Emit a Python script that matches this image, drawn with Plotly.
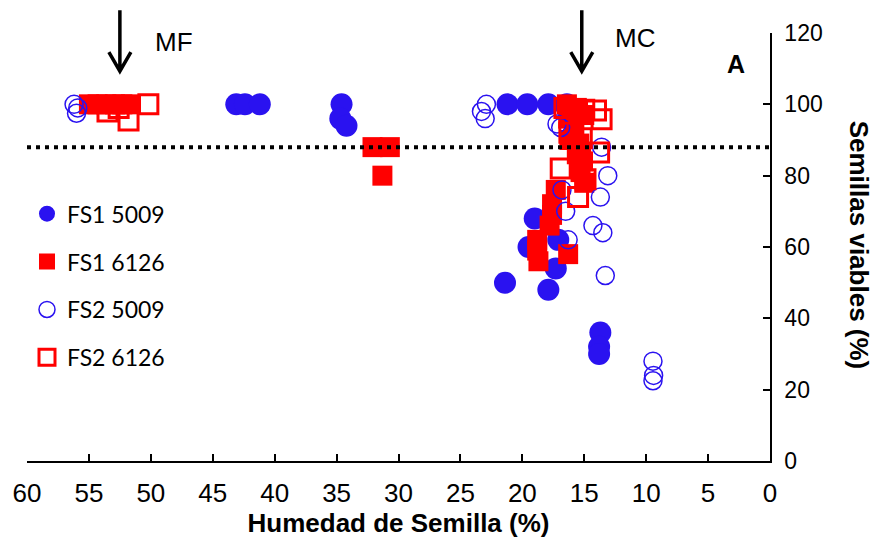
import plotly.graph_objects as go

# ---- data ----
fs1_5009_x = [43.1, 42.4, 41.2, 34.6, 34.7, 34.2, 21.2, 19.6, 17.9, 16.4, 21.4, 19.0, 19.5, 17.1, 17.3, 17.9, 13.7, 13.8, 13.8]
fs1_5009_y = [100, 100, 100, 100, 96, 94, 100, 100, 100, 100, 50, 68, 60, 62, 54, 48, 36, 32, 30]

fs1_6126_x = [55.0, 54.3, 53.6, 52.9, 52.3, 51.6, 32.1, 30.7, 31.3,
              16.4, 15.6, 15.0, 16.3, 15.8, 16.2, 15.4, 15.6, 15.1, 15.3, 15.0,
              17.3, 17.6, 17.6, 17.8, 18.8, 18.8, 18.7, 16.3]
fs1_6126_y = [100, 100, 100, 100, 100, 100, 88, 88, 80,
              100, 99, 97, 96, 93, 90, 89, 86, 84, 81, 78,
              76, 72, 69, 66, 62, 59, 56, 58]

fs2_5009_x = [56.2, 55.9, 56.0, 23.3, 22.9, 23.0, 17.2, 16.9, 13.6, 13.1, 13.7, 16.8,
              16.5, 14.3, 13.5, 16.3, 13.3, 9.45, 9.4, 9.45]
fs2_5009_y = [100, 99, 97.5, 98, 100, 96, 94.5, 93.5, 88, 80, 74, 76,
              70, 66, 64, 62, 52, 28, 24, 22.5]

fs2_6126_x = [50.2, 53.5, 51.8, 52.6, 16.6, 15.0, 14.05, 13.6, 16.2, 15.2, 13.8, 16.9, 14.9, 15.5]
fs2_6126_y = [100, 98, 95.5, 99, 99, 98.5, 98.3, 95.8, 92, 90.5, 86.5, 82, 79, 74]

threshold = 88
mf_x, mc_x = 52.5, 15.2
arrow_tip_y = 109

x_ticks = [60, 55, 50, 45, 40, 35, 30, 25, 20, 15, 10, 5, 0]
y_ticks = [0, 20, 40, 60, 80, 100, 120]

BLUE = "#2A12F0"
RED = "#FF0000"

fig = go.Figure()
fig.add_trace(go.Scatter(x=fs1_5009_x, y=fs1_5009_y, mode="markers", name="FS1 5009",
                         legendgroup="a",
                         marker=dict(symbol="circle", size=22, color=BLUE, line=dict(width=0))))
fig.add_trace(go.Scatter(x=fs1_6126_x, y=fs1_6126_y, mode="markers", name="FS1 6126",
                         legendgroup="b",
                         marker=dict(symbol="square", size=20, color=RED, line=dict(width=0))))
fig.add_trace(go.Scatter(x=fs2_5009_x, y=fs2_5009_y, mode="markers", name="FS2 5009",
                         legendgroup="c",
                         marker=dict(symbol="circle-open", size=18, color=BLUE, line=dict(width=1.5))))
fig.add_trace(go.Scatter(x=fs2_6126_x, y=fs2_6126_y, mode="markers", name="FS2 6126",
                         legendgroup="d",
                         marker=dict(symbol="square-open", size=19, color=RED, line=dict(width=3))))

shapes = [
    dict(type="line", xref="x", yref="y", x0=60, x1=0, y0=threshold, y1=threshold,
         line=dict(color="black", width=4, dash="4px,5px"), layer="above"),
]
for ax_x in (mf_x, mc_x):
    shapes.append(dict(type="path", xref="x", yref="paper", xsizemode="pixel", ysizemode="pixel",
                       xanchor=ax_x, yanchor=arrow_tip_y / 120,
                       path="M0,1 L0,62 M-11,20 L0,1 L11,20",
                       line=dict(color="black", width=3.5)))

annotations = [
    dict(text="MF", x=48.1, y=0.979, xref="x", yref="paper", showarrow=False,
         xanchor="center", yanchor="middle",
         font=dict(family="Liberation Sans, Arial", size=26, color="black")),
    dict(text="MC", x=10.9, y=0.988, xref="x", yref="paper", showarrow=False,
         xanchor="center", yanchor="middle",
         font=dict(family="Liberation Sans, Arial", size=26, color="black")),
    dict(text="<b>A</b>", x=2.75, y=0.928, xref="x", yref="paper", showarrow=False,
         xanchor="center", yanchor="middle",
         font=dict(family="Liberation Sans, Arial", size=25, color="black")),
    dict(text="<b>Semillas viables (%)</b>", x=1.12, y=0.505, xref="paper", yref="paper",
         showarrow=False, textangle=90, xanchor="center", yanchor="middle",
         font=dict(family="Liberation Sans, Arial", size=26, color="black")),
]

fig.update_layout(
    width=880, height=546,
    margin=dict(l=27, r=110, t=33, b=85),
    paper_bgcolor="white", plot_bgcolor="white",
    showlegend=True,
    legend=dict(x=0.0, y=0.628, xanchor="left", yanchor="top",
                bgcolor="rgba(0,0,0,0)", tracegroupgap=15,
                font=dict(family="Lato, Carlito, sans-serif", size=23, color="black")),
    shapes=shapes,
    annotations=annotations,
    xaxis=dict(range=[60, 0], tickvals=x_ticks, ticktext=[str(v) for v in x_ticks],
               showgrid=False, zeroline=False, showline=True, linecolor="black", linewidth=1.5,
               ticks="inside", ticklen=7, tickwidth=1.5, tickcolor="black", ticklabelstandoff=8,
               tickfont=dict(family="Liberation Sans Narrow, Liberation Sans, Arial", size=26, color="black"),
               title=dict(text="<b>Humedad de Semilla (%)</b>", standoff=5,
                          font=dict(family="Liberation Sans Narrow, Liberation Sans, Arial", size=26, color="black"))),
    yaxis=dict(range=[0, 120], side="right", tickvals=y_ticks,
               showgrid=False, zeroline=False, showline=True, linecolor="black", linewidth=1.5,
               ticks="inside", ticklen=7, tickwidth=1.5, tickcolor="black", ticklabelstandoff=8,
               tickfont=dict(family="Liberation Sans, Arial", size=23, color="black")),
)

fig.write_html("out.html", config={"displayModeBar": False},
               post_script="document.body.style.margin='0';")
